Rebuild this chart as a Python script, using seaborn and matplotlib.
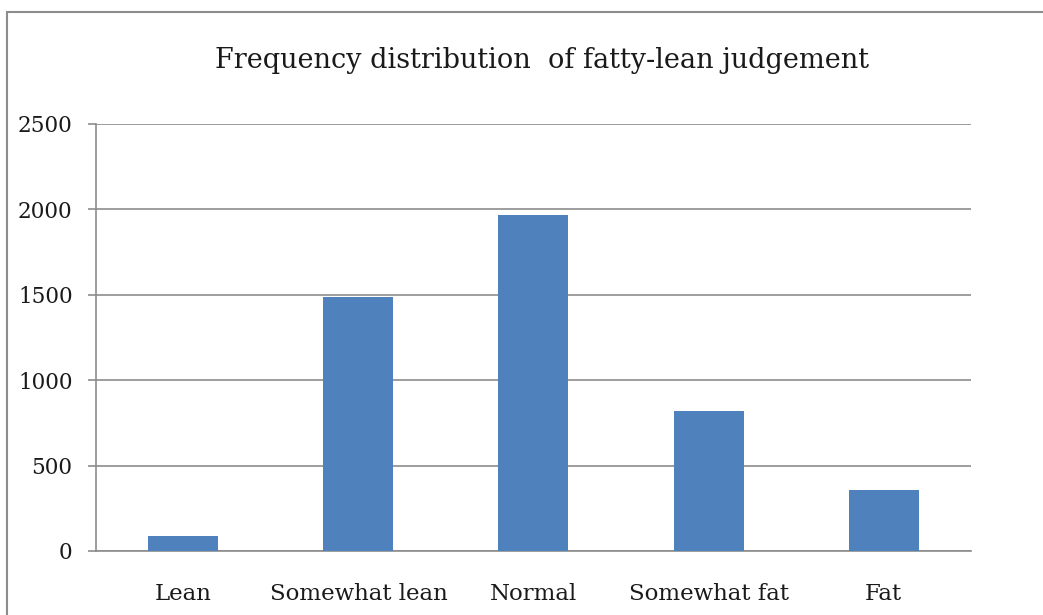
import matplotlib
matplotlib.use("Agg")
import matplotlib.pyplot as plt
import seaborn as sns
import pandas as pd
from matplotlib.patches import Rectangle

categories = ["Lean", "Somewhat lean", "Normal", "Somewhat fat", "Fat"]
counts = [90, 1485, 1970, 822, 357]
y_ticks = [0, 500, 1000, 1500, 2000, 2500]
title = "Frequency distribution  of fatty-lean judgement"

sns.set_theme(style="white")
plt.rcParams["font.family"] = ["DejaVu Serif"]

df = pd.DataFrame({"category": categories, "count": counts})

fig = plt.figure(figsize=(10.43, 6.15), dpi=100)
ax = fig.add_axes([0.092, 0.1041, 0.839, 0.6943])

sns.barplot(data=df, x="category", y="count", color="#4F81BD",
            width=0.4, saturation=1, linewidth=0, edgecolor="none",
            ax=ax, zorder=3)

ax.set_ylim(0, 2500)
ax.set_xlim(-0.5, len(categories) - 0.5)
ax.set_yticks(y_ticks)
ax.set_yticklabels([str(v) for v in y_ticks])
ax.yaxis.grid(True, color="#8c8c8c", linewidth=1.2, zorder=0)
ax.xaxis.grid(False)
ax.set_xlabel("")
ax.set_ylabel("")

for side in ["top", "right"]:
    ax.spines[side].set_visible(False)
for side in ["left", "bottom"]:
    ax.spines[side].set_color("#8c8c8c")
    ax.spines[side].set_linewidth(1.2)

ax.tick_params(axis="y", which="major", left=True, length=5.8, width=1.2,
               color="#8c8c8c", labelsize=15.5, pad=11, labelcolor="#1a1a1a")
ax.tick_params(axis="x", which="major", bottom=False, labelsize=16.5,
               pad=17, labelcolor="#1a1a1a")

fig.text(0.52, 0.902, title, ha="center", va="center",
         fontsize=19.5, color="#1a1a1a")

# chart area frame
fig.patches.append(Rectangle((7 / 1043, -0.05), 1.1, (615 - 12) / 615 + 0.05,
                             transform=fig.transFigure, fill=False,
                             edgecolor="#8c8c8c", linewidth=1.5, zorder=0))

fig.savefig("out.png", dpi=100, facecolor="white")
